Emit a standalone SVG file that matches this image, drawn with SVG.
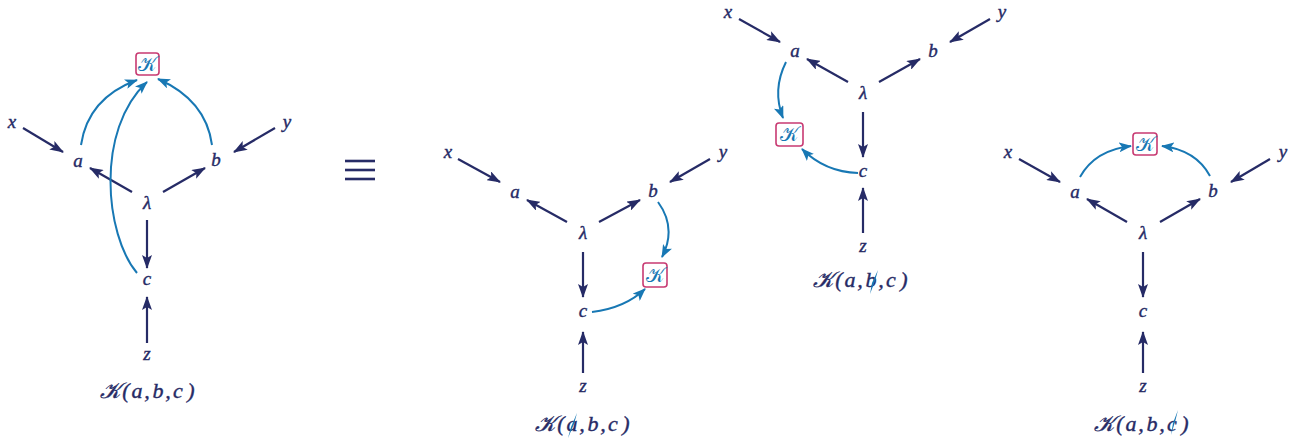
<svg xmlns="http://www.w3.org/2000/svg" width="1306" height="441" viewBox="0 0 1306 441">
<style>
  .t { font-family: "Liberation Serif", "DejaVu Serif", serif; font-style: italic; font-size: 19px; fill: #262b66; stroke: #262b66; stroke-width: 0.4; text-anchor: middle; }
  .lbl { font-family: "Liberation Serif", "DejaVu Serif", serif; font-style: italic; font-size: 22px; fill: #262b66; stroke: #262b66; stroke-width: 0.4; text-anchor: middle; }
  .kt { font-family: "DejaVu Serif", "Noto Sans", serif; font-size: 20px; fill: #1878b4; text-anchor: middle; }
  .box { fill: #ffffff; stroke: #c83a72; stroke-width: 1.6; }
  .e { stroke: #262b66; stroke-width: 2.2; fill: none; marker-end: url(#ah); }
  .k { stroke: #1878b4; stroke-width: 2; fill: none; marker-end: url(#bh); }
  .slash { fill: #1878b4; }
  .eq { stroke: #262b66; stroke-width: 2.6; }
</style>
<defs>
  <marker id="ah" markerUnits="userSpaceOnUse" markerWidth="14" markerHeight="10" refX="13" refY="5" orient="auto">
    <path d="M0,0 L14,5 L0,10 L3,5 Z" fill="#262b66"/>
  </marker>
  <marker id="bh" markerUnits="userSpaceOnUse" markerWidth="13" markerHeight="10" refX="12" refY="5" orient="auto">
    <path d="M0,0 L13,5 L0,10 L3,5 Z" fill="#1878b4"/>
  </marker>
</defs>

<g id="connectors">
  <!-- diagram 1 -->
  <line class="e" x1="23" y1="128" x2="63" y2="152"/>
  <line class="e" x1="275" y1="128" x2="234" y2="152"/>
  <line class="e" x1="132" y1="192" x2="90" y2="168"/>
  <line class="e" x1="163" y1="192" x2="205" y2="168"/>
  <line class="e" x1="147" y1="220" x2="147" y2="268"/>
  <line class="e" x1="147" y1="343" x2="147" y2="297"/>
  <path class="k" d="M81,145 Q88,98 137,80"/>
  <path class="k" d="M212,145 Q206,100 158,79"/>
  <path class="k" d="M137,273 C105,235 95,130 147,82"/>
  <!-- diagram 2 -->
  <line class="e" x1="458" y1="159" x2="500" y2="182"/>
  <line class="e" x1="710" y1="159" x2="670" y2="182"/>
  <line class="e" x1="567" y1="222" x2="527" y2="200"/>
  <line class="e" x1="599" y1="222" x2="640" y2="200"/>
  <line class="e" x1="583" y1="252" x2="583" y2="297"/>
  <line class="e" x1="583" y1="373" x2="583" y2="332"/>
  <path class="k" d="M658,202 Q677,228 662,257"/>
  <path class="k" d="M592,312 Q625,308 645,289"/>
  <!-- diagram 3 -->
  <line class="e" x1="739" y1="19" x2="780" y2="42"/>
  <line class="e" x1="990" y1="19" x2="950" y2="42"/>
  <line class="e" x1="848" y1="82" x2="807" y2="59"/>
  <line class="e" x1="879" y1="82" x2="920" y2="59"/>
  <line class="e" x1="863" y1="112" x2="863" y2="157"/>
  <line class="e" x1="863" y1="233" x2="863" y2="188"/>
  <path class="k" d="M786,62 Q772,90 783,118"/>
  <path class="k" d="M858,173 Q825,172 802,149"/>
  <!-- diagram 4 -->
  <line class="e" x1="1019" y1="159" x2="1060" y2="182"/>
  <line class="e" x1="1270" y1="159" x2="1231" y2="182"/>
  <line class="e" x1="1127" y1="222" x2="1087" y2="199"/>
  <line class="e" x1="1160" y1="222" x2="1200" y2="199"/>
  <line class="e" x1="1143" y1="252" x2="1143" y2="297"/>
  <line class="e" x1="1143" y1="373" x2="1143" y2="332"/>
  <path class="k" d="M1080,177 Q1095,150 1131,146"/>
  <path class="k" d="M1210,176 Q1196,150 1162,146"/>
</g>

<!-- diagram 1 nodes -->
<g id="d1-x"><text class="t" x="12" y="128">x</text></g>
<g id="d1-a"><text class="t" x="78" y="167">a</text></g>
<g id="d1-b"><text class="t" x="216" y="166">b</text></g>
<g id="d1-y"><text class="t" x="287" y="128">y</text></g>
<g id="d1-lambda"><text class="t" x="147" y="209">λ</text></g>
<g id="d1-c"><text class="t" x="147" y="285">c</text></g>
<g id="d1-z"><text class="t" x="147" y="360">z</text></g>
<g id="d1-K"><rect class="box" x="136" y="53" width="23" height="22" rx="3"/><text class="kt" x="147.5" y="71">𝒦</text></g>
<g id="d1-label"><text class="lbl" y="398"><tspan x="110">𝒦</tspan><tspan x="126">(</tspan><tspan x="137">a</tspan><tspan x="147">,</tspan><tspan x="158">b</tspan><tspan x="168">,</tspan><tspan x="178">c</tspan><tspan x="191">)</tspan></text></g>

<!-- equivalence -->
<g id="equiv">
  <line class="eq" x1="345" y1="161" x2="375" y2="161"/>
  <line class="eq" x1="345" y1="170" x2="375" y2="170"/>
  <line class="eq" x1="345" y1="179" x2="375" y2="179"/>
</g>

<!-- diagram 2 nodes -->
<g id="d2-x"><text class="t" x="448" y="158">x</text></g>
<g id="d2-a"><text class="t" x="515" y="198">a</text></g>
<g id="d2-b"><text class="t" x="653" y="197">b</text></g>
<g id="d2-y"><text class="t" x="723" y="158">y</text></g>
<g id="d2-lambda"><text class="t" x="583" y="239">λ</text></g>
<g id="d2-c"><text class="t" x="583" y="317">c</text></g>
<g id="d2-z"><text class="t" x="583" y="392">z</text></g>
<g id="d2-K"><rect class="box" x="643" y="263" width="24" height="24" rx="3"/><text class="kt" x="655" y="282">𝒦</text></g>
<g id="d2-label"><text class="lbl" y="431"><tspan x="545">𝒦</tspan><tspan x="561">(</tspan><tspan x="572">a</tspan><tspan x="582">,</tspan><tspan x="593">b</tspan><tspan x="603">,</tspan><tspan x="613">c</tspan><tspan x="626">)</tspan></text>
  <path class="slash" d="M577,413 L574,424 L568,438 L571,427 Z"/></g>

<!-- diagram 3 nodes -->
<g id="d3-x"><text class="t" x="728" y="18">x</text></g>
<g id="d3-a"><text class="t" x="795" y="57">a</text></g>
<g id="d3-b"><text class="t" x="933" y="57">b</text></g>
<g id="d3-y"><text class="t" x="1002" y="18">y</text></g>
<g id="d3-lambda"><text class="t" x="863" y="99">λ</text></g>
<g id="d3-c"><text class="t" x="863" y="177">c</text></g>
<g id="d3-z"><text class="t" x="863" y="252">z</text></g>
<g id="d3-K"><rect class="box" x="776" y="123" width="27" height="23" rx="3"/><text class="kt" x="789.5" y="141">𝒦</text></g>
<g id="d3-label"><text class="lbl" y="287"><tspan x="823">𝒦</tspan><tspan x="839">(</tspan><tspan x="850">a</tspan><tspan x="860">,</tspan><tspan x="871">b</tspan><tspan x="881">,</tspan><tspan x="891">c</tspan><tspan x="904">)</tspan></text>
  <path class="slash" d="M878,270 L875,281 L870,294 L872,283 Z"/></g>

<!-- diagram 4 nodes -->
<g id="d4-x"><text class="t" x="1008" y="158">x</text></g>
<g id="d4-a"><text class="t" x="1075" y="198">a</text></g>
<g id="d4-b"><text class="t" x="1213" y="197">b</text></g>
<g id="d4-y"><text class="t" x="1283" y="158">y</text></g>
<g id="d4-lambda"><text class="t" x="1143" y="239">λ</text></g>
<g id="d4-c"><text class="t" x="1143" y="317">c</text></g>
<g id="d4-z"><text class="t" x="1143" y="392">z</text></g>
<g id="d4-K"><rect class="box" x="1133" y="133" width="24" height="22" rx="3"/><text class="kt" x="1145" y="151">𝒦</text></g>
<g id="d4-label"><text class="lbl" y="431"><tspan x="1104">𝒦</tspan><tspan x="1120">(</tspan><tspan x="1131">a</tspan><tspan x="1141">,</tspan><tspan x="1152">b</tspan><tspan x="1162">,</tspan><tspan x="1172">c</tspan><tspan x="1185">)</tspan></text>
  <path class="slash" d="M1178,410 L1175,422 L1171,435 L1173,423 Z"/></g>
</svg>
